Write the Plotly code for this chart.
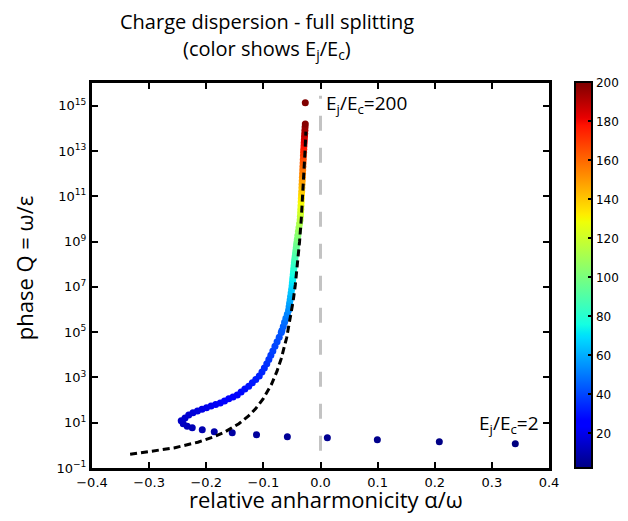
import plotly.graph_objects as go

# ---- data ----
ej_ec = [2, 3, 4, 5, 6, 7, 8, 9, 10, 11, 12, 13, 14, 15, 16, 17, 18, 19, 20, 21,
         22, 23, 24, 25, 26, 27, 28, 29, 30, 31, 32, 33, 34, 35, 36, 37, 38, 39,
         40, 41, 42, 43, 44, 46, 48, 50, 52, 54, 56, 58, 60, 62, 64, 66, 68, 70,
         72, 74, 76, 78, 80, 82, 84, 86, 88, 90, 92, 94, 96, 98, 100, 103, 106,
         109, 112, 115, 118, 121, 124, 127, 130, 133, 136, 139, 142, 145, 148,
         151, 154, 157, 160, 163, 166, 169, 172, 175, 178, 181, 184, 187, 190,
         193, 196, 199, 200]

rel_anharm = [0.341, 0.208, 0.0995, 0.012, -0.058, -0.112, -0.1545, -0.186, -0.207,
              -0.2245, -0.2333, -0.2403, -0.2438, -0.2372, -0.2307, -0.2233, -0.2154,
              -0.2075, -0.1996, -0.1916, -0.1835, -0.1755, -0.1680, -0.1606, -0.1532,
              -0.1457, -0.1390, -0.1324, -0.1256, -0.1193, -0.1133, -0.1072, -0.1025,
              -0.0983, -0.0940, -0.0904, -0.0869, -0.0834, -0.0797, -0.0760, -0.0723,
              -0.0687, -0.0675, -0.0651, -0.0629, -0.0606, -0.0581, -0.0559, -0.0550,
              -0.0541, -0.0532, -0.0524, -0.0515, -0.0506, -0.0498, -0.0493, -0.0487,
              -0.0482, -0.0477, -0.0472, -0.0467, -0.0461, -0.0456, -0.0450, -0.0443,
              -0.0437, -0.0431, -0.0425, -0.0419, -0.0412, -0.0406, -0.0397, -0.0387,
              -0.0377, -0.0367, -0.0357, -0.0352, -0.0348, -0.0345, -0.0342, -0.0339,
              -0.0336, -0.0333, -0.0329, -0.0326, -0.0323, -0.0320, -0.0317, -0.0314,
              -0.0311, -0.0308, -0.0305, -0.0302, -0.0299, -0.0296, -0.0293, -0.0289,
              -0.0286, -0.0283, -0.0280, -0.0276, -0.0273, -0.0270, -0.0266, -0.0266]

phase_q = [1.175, 1.44, 1.76, 2.16, 2.39, 2.93, 3.58, 3.96, 4.85, 5.95, 6.94, 8.93,
           12.1, 16.2, 21.8, 27.2, 32.7, 38.8, 45.7, 54.2, 63.8, 75.0, 91.8, 113,
           138, 169, 226, 307, 412, 576, 813, 1159, 1722, 2612, 3990, 6180, 9550,
           1.479e4, 2.355e4, 3.758e4, 5.984e4, 9.55e4, 1.175e5, 1.77e5, 2.74e5,
           4.06e5, 6.17e5, 9.33e5, 1.33e6, 1.88e6, 2.65e6, 3.78e6, 5.40e6, 7.62e6,
           1.08e7, 1.46e7, 1.98e7, 2.68e7, 3.63e7, 4.92e7, 6.67e7, 9.04e7, 1.22e8,
           1.64e8, 2.18e8, 2.93e8, 3.94e8, 5.22e8, 7.02e8, 9.31e8, 1.25e9, 1.85e9,
           2.75e9, 4.07e9, 6.03e9, 8.94e9, 1.30e10, 1.86e10, 2.67e10, 3.84e10,
           5.51e10, 7.92e10, 1.14e11, 1.63e11, 2.34e11, 3.37e11, 4.83e11, 6.93e11,
           9.96e11, 1.43e12, 2.05e12, 2.94e12, 4.23e12, 6.07e12, 8.73e12, 1.20e13,
           1.66e13, 2.28e13, 3.14e13, 4.33e13, 5.96e13, 8.20e13, 1.13e14, 1.56e14,
           1.35e15]

# asymptotic (dashed) curve
asym_anharm = [-0.3333, -0.2880, -0.2565, -0.2147, -0.1878, -0.1687, -0.1429, -0.1259,
               -0.1137, -0.1005, -0.0858, -0.0761, -0.0690, -0.0592, -0.0526, -0.0478,
               -0.0441, -0.0412, -0.0388, -0.0367, -0.0334, -0.0308, -0.0297, -0.0288,
               -0.0271, -0.0256]
asym_q = [0.401, 0.564, 0.771, 1.372, 2.314, 3.751, 9.03, 19.93, 41.3, 112.3, 499,
          1897, 6423, 5.74e4, 4.04e5, 2.385e6, 1.234e7, 5.74e7, 2.44e8, 9.65e8,
          1.256e10, 1.343e11, 4.13e11, 1.227e12, 9.86e12, 7.10e13]

# vertical reference line at alpha/omega = 0
ref_x = [0, 0]
ref_y = [0.578, 2.75e15]

x_ticks = [-0.4, -0.3, -0.2, -0.1, 0.0, 0.1, 0.2, 0.3, 0.4]
y_exps = [-1, 1, 3, 5, 7, 9, 11, 13, 15]
y_ticks = [10.0 ** e for e in y_exps]
y_ticktext = ["10<sup>%s</sup>" % (str(e).replace("-", "\u2212")) for e in y_exps]
cbar_ticks = [20, 40, 60, 80, 100, 120, 140, 160, 180, 200]

title_lines = ["Charge dispersion - full splitting",
               "(color shows E<sub>j</sub>/E<sub>c</sub>)"]

# matplotlib "jet"
jet = [[0.0, "rgb(0,0,128)"], [0.11, "rgb(0,0,255)"], [0.125, "rgb(0,0,255)"],
       [0.34, "rgb(0,219,255)"], [0.35, "rgb(0,230,247)"], [0.375, "rgb(21,255,226)"],
       [0.64, "rgb(239,255,8)"], [0.65, "rgb(247,246,0)"], [0.66, "rgb(255,236,0)"],
       [0.89, "rgb(255,19,0)"], [0.91, "rgb(232,0,0)"], [1.0, "rgb(128,0,0)"]]

TXT = "Open Sans"
TICKF = dict(family="DejaVu Sans", size=13, color="black")

fig = go.Figure()

fig.add_trace(go.Scatter(
    x=ref_x, y=ref_y, mode="lines",
    line=dict(color="#c3c3c3", width=3, dash="15px,17px"),
    showlegend=False, hoverinfo="skip"))

fig.add_trace(go.Scatter(
    x=rel_anharm, y=phase_q, mode="markers",
    marker=dict(size=7, color=ej_ec, colorscale=jet, cmin=2, cmax=200,
                line=dict(width=0),
                colorbar=dict(thickness=17, thicknessmode="pixels",
                              len=386, lenmode="pixels",
                              x=1.0569, xanchor="left", xpad=0,
                              y=0.5, yanchor="middle", ypad=0,
                              outlinewidth=2, outlinecolor="black",
                              ticks="inside", ticklen=5, tickwidth=1.5,
                              tickcolor="black", tickvals=cbar_ticks,
                              tickfont=dict(family="DejaVu Sans", size=12,
                                            color="black"))),
    showlegend=False))

fig.add_trace(go.Scatter(
    x=asym_anharm, y=asym_q, mode="lines",
    line=dict(color="black", width=3, dash="7px,4px"),
    showlegend=False, hoverinfo="skip"))

axis_common = dict(showline=True, linewidth=3, linecolor="black", mirror="ticks",
                   ticks="inside", ticklen=6, tickwidth=1.5, tickcolor="black",
                   showgrid=False, zeroline=False, tickfont=TICKF, automargin=False)

# the page adds an 8px body margin; the figure is sized so the page does not
# overflow the window, and margins put the plot area where the reference has it
fig.update_layout(
    width=612, height=505,
    margin=dict(l=84, r=71, t=75, b=45, autoexpand=False),
    paper_bgcolor="white", plot_bgcolor="white",
    xaxis=dict(range=[-0.4, 0.4], tickvals=x_ticks, tickformat=".1f",
               **axis_common),
    yaxis=dict(type="log", range=[-1, 16], tickvals=y_ticks, ticktext=y_ticktext,
               **axis_common),
    annotations=[
        dict(x=0.384, y=1.160, xref="paper", yref="paper", text=title_lines[0],
             showarrow=False, xanchor="center", yanchor="middle",
             font=dict(family=TXT, size=20, color="black")),
        dict(x=0.384, y=1.088, xref="paper", yref="paper", text=title_lines[1],
             showarrow=False, xanchor="center", yanchor="middle",
             font=dict(family=TXT, size=20, color="black")),
        dict(x=0.5125, y=-0.080, xref="paper", yref="paper",
             text="relative anharmonicity α/ω",
             showarrow=False, xanchor="center", yanchor="middle",
             font=dict(family=TXT, size=22, color="black")),
        dict(x=-0.15, y=0.52, xref="paper", yref="paper", text="phase Q = ω/ε",
             textangle=-90, showarrow=False, xanchor="center", yanchor="middle",
             font=dict(family=TXT, size=22, color="black")),
        dict(x=0.0067, y=15.06, xref="x", yref="y", text="E<sub>j</sub>/E<sub>c</sub>=200",
             showarrow=False, xanchor="left", yanchor="middle",
             font=dict(family=TXT, size=19, color="black")),
        dict(x=0.386, y=0.95, xref="x", yref="y", text="E<sub>j</sub>/E<sub>c</sub>=2",
             showarrow=False, xanchor="right", yanchor="middle",
             font=dict(family=TXT, size=19, color="black")),
    ],
)

fig.write_html("out.html")
